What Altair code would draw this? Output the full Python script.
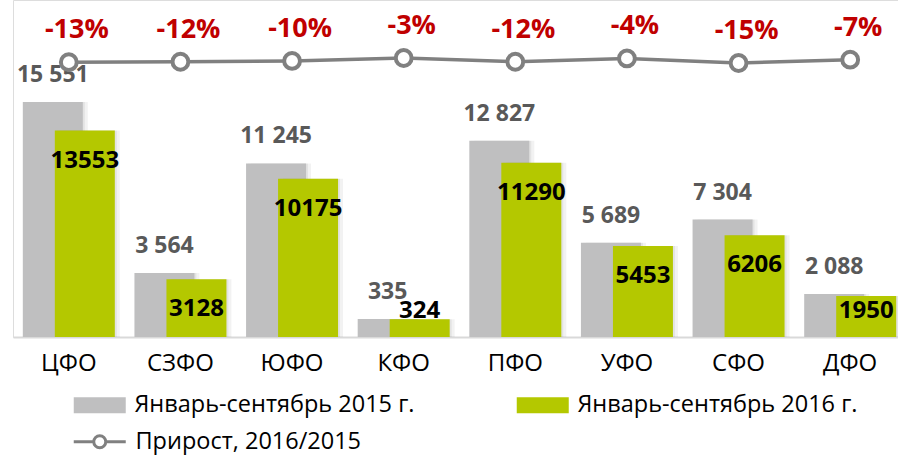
import altair as alt
import pandas as pd

regions = ["ЦФО", "СЗФО", "ЮФО", "КФО", "ПФО", "УФО", "СФО", "ДФО"]
jan_sep_2015 = [15551, 3564, 11245, 335, 12827, 5689, 7304, 2088]
jan_sep_2016 = [13553, 3128, 10175, 324, 11290, 5453, 6206, 1950]
growth_pct = [-13, -12, -10, -3, -12, -4, -15, -7]
name_2015 = "Январь-сентябрь 2015 г."
name_2016 = "Январь-сентябрь 2016 г."
name_growth = "Прирост, 2016/2015"
AXIS_MIN = -927      # value axis of the original does not start at zero
AXIS_MAX = 22705

df = pd.DataFrame({"region": regions, "v2015": jan_sep_2015,
                   "v2016": jan_sep_2016, "growth": growth_pct})

GRAY = "#bfbfc0"
GREEN = "#b4c800"
LINE = "#808080"
RED = "#c00000"
LBL_GRAY = "#595959"
FONT = "Open Sans"

x_enc = alt.X("region:N", sort=regions,
              scale=alt.Scale(paddingInner=0, paddingOuter=0, range=[0, 893]),
              axis=alt.Axis(title=None, labelAngle=0, labelFontSize=24, labelFont=FONT,
                            labelColor="black", ticks=False, domainColor="#d9d9d9",
                            domainWidth=2, labelPadding=14, grid=False))
ybar = alt.Scale(domain=[AXIS_MIN, AXIS_MAX], nice=False, zero=False)

rect_path = "M-3.25,-1H3.25V1H-3.25Z"
line_path = ("M-3.25,0H-0.75M0.75,0H3.25M-0.75,0A0.75,0.75 0 1,0 0.75,0"
             "A0.75,0.75 0 1,0 -0.75,0")

color_scale = alt.Scale(domain=[name_2015, name_2016], range=[GRAY, GREEN])
color_legend = alt.Legend(title=None, orient="none", legendX=75, legendY=393,
                          direction="horizontal", columns=2, columnPadding=101,
                          symbolType=rect_path, symbolSize=256, symbolStrokeWidth=0,
                          symbolOpacity=1, labelFont=FONT, labelFontSize=23.5,
                          labelColor="black", labelOffset=23, padding=0,
                          labelLimit=400)

base = alt.Chart(df)


def shadow(field, off, op):
    return base.mark_bar(width=60, xOffset=off, color="#000000", opacity=op).encode(
        x=x_enc, y=alt.Y(f"{field}:Q", scale=ybar, axis=None),
        y2=alt.datum(AXIS_MIN))


sh15a = shadow("v2015", -16 + 2, 0.06)
sh15b = shadow("v2015", -16 + 5, 0.05)
sh16a = shadow("v2016", 16 + 2, 0.06)
sh16b = shadow("v2016", 16 + 5, 0.05)

bar15 = base.transform_calculate(series=f"'{name_2015}'").mark_bar(
    width=60, xOffset=-16).encode(
    x=x_enc,
    y=alt.Y("v2015:Q", scale=ybar, axis=None),
    y2=alt.datum(AXIS_MIN),
    color=alt.Color("series:N", scale=color_scale, legend=color_legend))

bar16 = base.transform_calculate(series=f"'{name_2016}'").mark_bar(
    width=60, xOffset=16).encode(
    x=x_enc,
    y=alt.Y("v2016:Q", scale=ybar, axis=None),
    y2=alt.datum(AXIS_MIN),
    color=alt.Color("series:N", scale=color_scale, legend=color_legend))

txt15 = base.transform_calculate(
    lab="replace(format(datum.v2015, ','), ',', ' ')").mark_text(
    dx=-16, dy=-27, baseline="middle", align="center", font=FONT,
    fontSize=23, fontWeight="bold", color=LBL_GRAY).encode(
    x=x_enc, y=alt.Y("v2015:Q", scale=ybar, axis=None), text="lab:N")

txt16 = base.transform_calculate(
    ypos="max(datum.v2016 - 2104, 896)",
    lab="format(datum.v2016, 'd')").mark_text(
    dx=16, baseline="middle", align="center", font=FONT,
    fontSize=24, fontWeight="bold", color="black").encode(
    x=x_enc, y=alt.Y("ypos:Q", scale=ybar, axis=None), text="lab:N")

bars = alt.layer(sh15a, sh15b, bar15, sh16a, sh16b, bar16, txt15, txt16)

yline = alt.Scale(domain=[-672, 136], nice=False, zero=False)

growth_legend = alt.Legend(
    title=None, orient="none", legendX=75, legendY=430, symbolType=line_path,
    symbolSize=256, symbolStrokeColor=LINE, symbolStrokeWidth=3,
    symbolFillColor="white", symbolOpacity=1, labelFont=FONT,
    labelFontSize=23.5, labelColor="black",
    labelOffset=24, padding=0, labelLimit=400)

line = base.transform_calculate(series=f"'{name_growth}'").mark_line(
    color=LINE, strokeWidth=3.5).encode(
    x=x_enc, y=alt.Y("growth:Q", scale=yline, axis=None),
    opacity=alt.Opacity("series:N", scale=alt.Scale(domain=[name_growth], range=[1]),
                        legend=growth_legend))

pts = base.mark_point(
    shape="circle", size=250, filled=True, fill="white", stroke=LINE,
    strokeWidth=4, opacity=1).encode(
    x=x_enc, y=alt.Y("growth:Q", scale=yline, axis=None))

pct = base.transform_calculate(lab="datum.growth + '%'").mark_text(
    dx=8, dy=-32, baseline="middle", align="center", font=FONT, fontSize=27,
    fontWeight="bold", color=RED).encode(
    x=x_enc, y=alt.Y("growth:Q", scale=yline, axis=None), text="lab:N")

growth_layer = alt.layer(line, pts, pct)

chart = alt.layer(bars, growth_layer).resolve_scale(y="independent").properties(
    width=885, height=337,
    autosize=alt.AutoSizeParams(type="none"),
    padding={"left": 13, "top": 0, "right": 0, "bottom": 118},
).configure_view(stroke=None).configure(background="white")

chart.save("out.html", embed_options={"renderer": "svg", "actions": False})
